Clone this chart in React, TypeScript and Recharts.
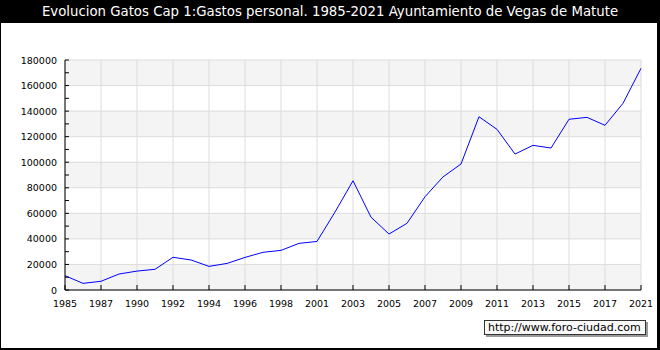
import { CartesianGrid, Line, LineChart, XAxis, YAxis } from "recharts";

const years = [
  "1985", "1986", "1987", "1988", "1990", "1991", "1992", "1993", "1994",
  "1995", "1996", "1997", "1998", "1999", "2001", "2002", "2003", "2004",
  "2005", "2006", "2007", "2008", "2009", "2010", "2011", "2012", "2013",
  "2014", "2015", "2016", "2017", "2019", "2021",
];

const gastos = [
  11200, 5200, 6800, 12500, 14800, 16200, 25600, 23500, 18500, 20800, 25500,
  29500, 31000, 36500, 38000, 61000, 85500, 57000, 43800, 52200, 73000, 88500,
  98600, 135600, 125700, 106400, 113200, 111100, 133600, 135100, 128900, 146100,
  173500,
];

const xTickLabels = [
  "1985", "1987", "1990", "1992", "1994", "1996", "1998", "2001", "2003",
  "2005", "2007", "2009", "2011", "2013", "2015", "2017", "2021",
];

const yTicks = [
  0, 10000, 20000, 30000, 40000, 50000, 60000, 70000, 80000, 90000, 100000,
  110000, 120000, 130000, 140000, 150000, 160000, 170000, 180000,
];

const yGridValues = yTicks.filter((v) => v % 20000 === 0);

const data = years.map((year, i) => ({ year, value: gastos[i] }));

const tickFont = "'DejaVu Sans', Verdana, sans-serif";

function XTick({ x, y, payload }: any) {
  return (
    <g>
      <line x1={x} y1={y} x2={x} y2={y - 5} stroke="#000" />
      <text x={x} y={y + 17} textAnchor="middle" fontSize={9.5} fontFamily={tickFont} fill="#000">
        {payload.value}
      </text>
    </g>
  );
}

function YTick({ x, y, payload }: any) {
  const showLabel = payload.value % 20000 === 0;
  return (
    <g>
      <line x1={x} y1={y} x2={x + 4} y2={y} stroke="#000" />
      {showLabel && (
        <text x={x - 8} y={y + 3.5} textAnchor="end" fontSize={9.5} fontFamily={tickFont} fill="#000">
          {payload.value}
        </text>
      )}
    </g>
  );
}

export default function App() {
  return (
    <div style={{ position: "absolute", left: 0, top: 0, width: 660, height: 350, background: "#000" }}>
      <div
        style={{
          position: "absolute",
          left: 0,
          top: 0,
          width: 660,
          height: 23,
          color: "#fff",
          textAlign: "center",
          fontFamily: tickFont,
          fontSize: 13.3,
          lineHeight: "23px",
        }}
      >
        Evolucion Gatos Cap 1:Gastos personal. 1985-2021 Ayuntamiento de Vegas de Matute
      </div>
      <div style={{ position: "absolute", left: 1, top: 23, width: 656, height: 325, background: "#fff" }} />
      <div style={{ position: "absolute", left: 0, top: 0 }}>
        <LineChart width={660} height={350} data={data} margin={{ top: 60, right: 19, bottom: 30, left: 0 }}>
          <CartesianGrid
            stroke="#dcdcdc"
            horizontalValues={yGridValues}
            horizontalFill={["#f4f4f4", "#ffffff"]}
          />
          <XAxis
            dataKey="year"
            ticks={xTickLabels}
            interval={0}
            height={30}
            tickSize={0}
            tickMargin={0}
            tickLine={false}
            axisLine={{ stroke: "#000" }}
            tick={<XTick />}
          />
          <YAxis
            type="number"
            domain={[0, 180000]}
            ticks={yTicks}
            interval={0}
            width={65}
            tickSize={0}
            tickMargin={0}
            tickLine={false}
            axisLine={{ stroke: "#000" }}
            tick={<YTick />}
          />
          <Line
            type="linear"
            dataKey="value"
            stroke="#0000ff"
            strokeWidth={1}
            dot={false}
            activeDot={false}
            isAnimationActive={false}
          />
        </LineChart>
      </div>
      <div
        style={{
          position: "absolute",
          left: 484,
          top: 320,
          width: 162,
          height: 15,
          boxSizing: "border-box",
          border: "1px solid #333",
          background: "#f8f8f8",
          boxShadow: "2px 2px 0 #999",
          fontFamily: tickFont,
          fontSize: 11,
          lineHeight: "13px",
          paddingLeft: 3,
          color: "#000",
        }}
      >
        http://www.foro-ciudad.com
      </div>
    </div>
  );
}
